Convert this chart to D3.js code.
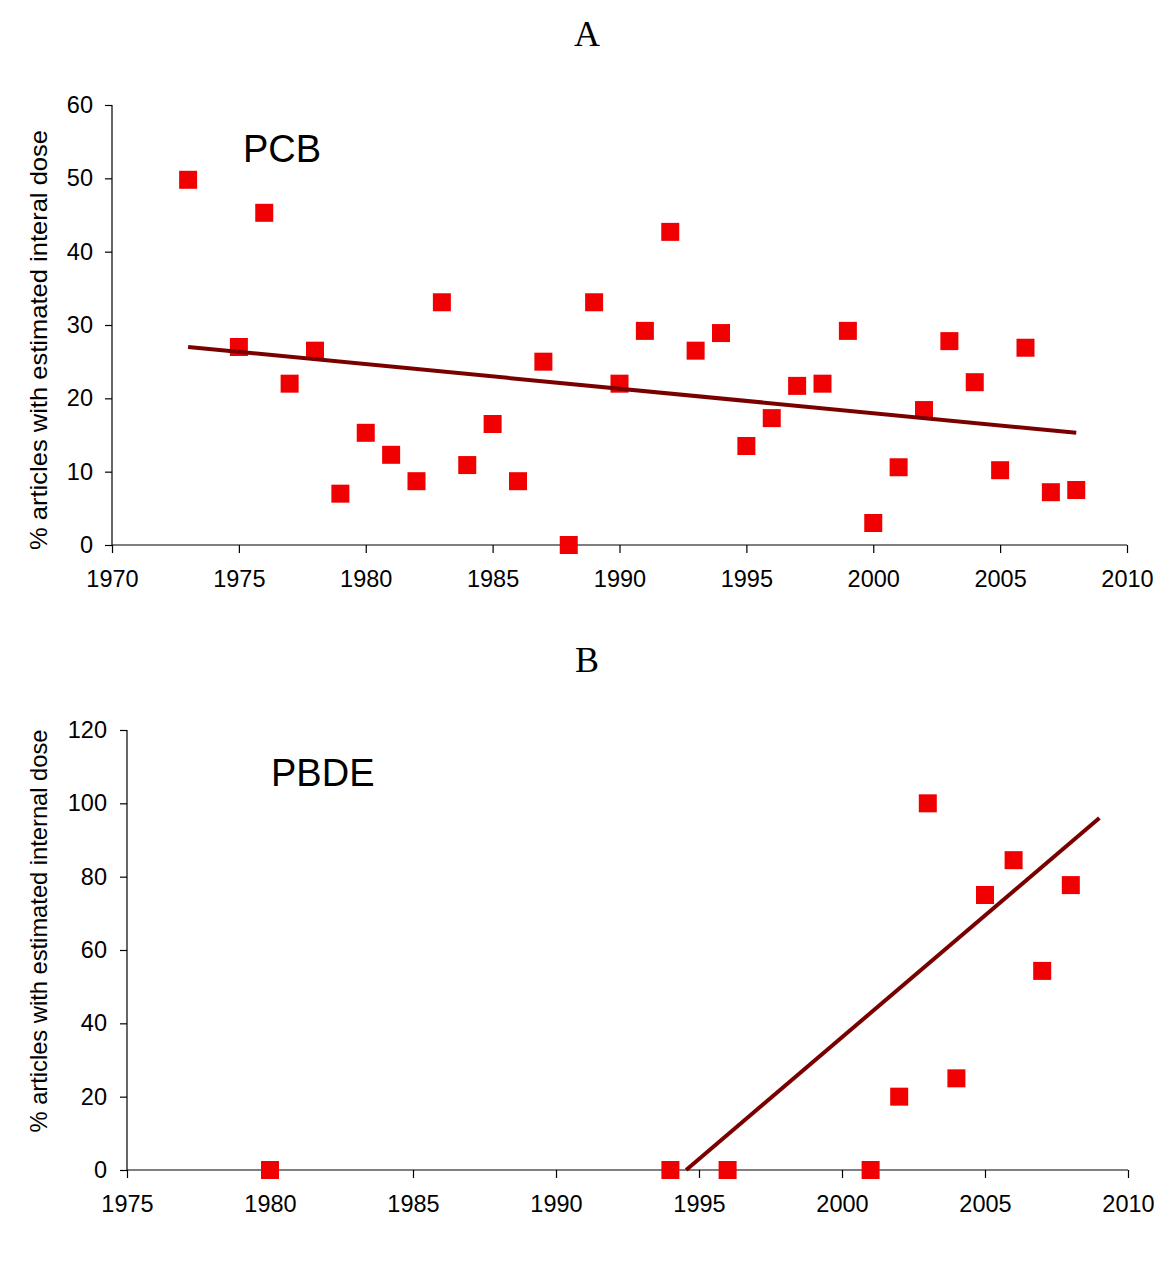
<!DOCTYPE html>
<html><head><meta charset="utf-8">
<script src="https://cdn.jsdelivr.net/npm/d3@7"></script>
<style>
body{margin:0;background:#fff;}
svg{display:block;}
text{font-family:"Liberation Sans",Arial,sans-serif;fill:#000;}
</style></head>
<body>
<svg id="chart" width="1175" height="1285"></svg>
<script>
// Panel A: PCB
const yearsA = [1973,1975,1976,1977,1978,1979,1980,1981,1982,1983,1984,1985,1986,1987,1988,1989,1990,1991,1992,1993,1994,1995,1996,1997,1998,1999,2000,2001,2002,2003,2004,2005,2006,2007,2008];
const valuesA = [49.8,27,45.3,22,26.5,7,15.3,12.3,8.7,33.1,10.9,16.5,8.7,25,0,33.1,22,29.2,42.7,26.5,28.9,13.5,17.3,21.7,22,29.2,3,10.6,18.4,27.8,22.2,10.2,26.9,7.2,7.5];
const trendA = [[1973,27.0],[2008,15.3]];
const xTicksA = [1970,1975,1980,1985,1990,1995,2000,2005,2010];
const yTicksA = [0,10,20,30,40,50,60];

// Panel B: PBDE
const yearsB = [1980,1994,1996,2001,2002,2003,2004,2005,2006,2007,2008];
const valuesB = [0,0,0,0,20,100,25,75,84.5,54.3,77.7];
const trendB = [[1994.55,0],[2009,96]];
const xTicksB = [1975,1980,1985,1990,1995,2000,2005,2010];
const yTicksB = [0,20,40,60,80,100,120];

const svg = d3.select("#chart");

function panel(cfg){
  const x = d3.scaleLinear().domain(cfg.xDomain).range([cfg.left, cfg.right]);
  const y = d3.scaleLinear().domain(cfg.yDomain).range([cfg.bottom, cfg.top]);
  const g = svg.append("g");

  // title
  g.append("text").attr("x",587).attr("y",cfg.titleY).attr("text-anchor","middle")
    .style("font-family",'"Liberation Serif","Times New Roman",serif').style("font-size","36px")
    .text(cfg.title);

  // axes
  const ya = g.append("g").attr("transform",`translate(${cfg.left},0)`)
    .call(d3.axisLeft(y).tickValues(cfg.yTicks).tickSize(7).tickPadding(cfg.yPad).tickFormat(d3.format("d")));
  const xa = g.append("g").attr("transform",`translate(0,${cfg.bottom})`)
    .call(d3.axisBottom(x).tickValues(cfg.xTicks).tickSize(8).tickPadding(17).tickFormat(d3.format("d")));
  [ya,xa].forEach(a=>{
    a.select(".domain").attr("stroke","#000").attr("stroke-width",1.2);
    a.selectAll(".tick line").attr("stroke","#000").attr("stroke-width",1.2);
    a.selectAll(".tick text").style("font-size","23.5px").style("font-family",'"Liberation Sans",Arial,sans-serif').attr("fill","#000");
  });
  ya.select(".domain").attr("d",`M0,${cfg.bottom}V${cfg.top}`);
  xa.select(".domain").attr("d",`M${cfg.left},0H${cfg.right}`);

  // y axis title
  g.append("text").attr("transform",`translate(47,${cfg.yTitleCy}) rotate(-90)`)
    .attr("text-anchor","middle").style("font-size","24px")
    .attr("textLength",cfg.yTitleLen).attr("lengthAdjust","spacingAndGlyphs")
    .text(cfg.yTitle);

  // label
  g.append("text").attr("x",cfg.labelX).attr("y",cfg.labelY).style("font-size","38px").text(cfg.label);

  // markers
  const s = 18;
  g.selectAll("rect.pt").data(cfg.years.map((d,i)=>[d,cfg.values[i]])).enter().append("rect")
    .attr("class","pt")
    .attr("x",d=>x(d[0])-s/2).attr("y",d=>y(d[1])-s/2)
    .attr("width",s).attr("height",s).attr("fill","#f00000");

  // trend line
  g.append("path").datum(cfg.trend)
    .attr("d",d3.line().x(d=>x(d[0])).y(d=>y(d[1])))
    .attr("stroke","#7a0000").attr("stroke-width",4).attr("fill","none");
}

panel({title:"A", titleY:46, xDomain:[1970,2010], yDomain:[0,60], left:112, right:1127, top:105, bottom:545,
  xTicks:xTicksA, yTicks:yTicksA, yPad:12, years:yearsA, values:valuesA, trend:trendA,
  yTitle:"% articles with estimated interal dose", yTitleCy:340, yTitleLen:420, label:"PCB", labelX:243, labelY:162});

panel({title:"B", titleY:672, xDomain:[1975,2010], yDomain:[0,120], left:127, right:1128, top:730, bottom:1170,
  xTicks:xTicksB, yTicks:yTicksB, yPad:13, years:yearsB, values:valuesB, trend:trendB,
  yTitle:"% articles with estimated internal dose", yTitleCy:931, yTitleLen:403, label:"PBDE", labelX:271, labelY:786});
</script>
</body></html>
